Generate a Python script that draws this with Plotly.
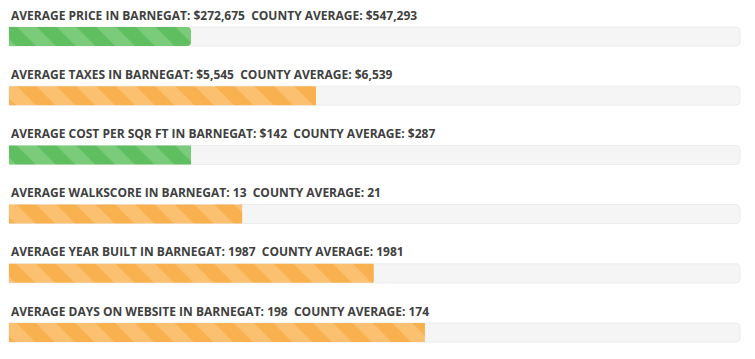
import plotly.graph_objects as go

labels = ["AVERAGE PRICE", "AVERAGE TAXES", "AVERAGE COST PER SQR FT",
          "AVERAGE WALKSCORE", "AVERAGE YEAR BUILT", "AVERAGE DAYS ON WEBSITE"]
town = "BARNEGAT"
town_values = ["$272,675", "$5,545", "$142", "13", "1987", "198"]
county_values = ["$547,293", "$6,539", "$287", "21", "1981", "174"]
fill_pct = [24.9, 42.0, 24.9, 31.9, 49.9, 56.9]
is_good = [True, False, True, False, False, False]

GREEN, GREEN_L = "#5fbe60", "#7acb7a"
ORANGE, ORANGE_L = "#f9b14f", "#fbc171"

rows = list(range(len(labels)))
OFF = 8  # page body margin
W, H = 755 - OFF, 359 - OFF
row0_px, row_step = 36.5 - OFF, 59.2
bar_h = 19 / row_step
y_top = -row0_px / row_step
y_bot = (H - row0_px) / row_step
x_left_px, x_right_px = 9 - OFF, 740 - OFF
span = x_right_px - x_left_px
x0 = -x_left_px / span * 100
x1 = 100 + (W - x_right_px) / span * 100

fig = go.Figure()
fig.add_trace(go.Bar(
    x=[100] * len(rows), y=rows, orientation="h", width=bar_h,
    marker=dict(color="#f5f5f5", line=dict(color="#ececec", width=1)),
    hoverinfo="skip", showlegend=False))

for good, base, light in [(True, GREEN, GREEN_L), (False, ORANGE, ORANGE_L)]:
    ys = [r for r in rows if is_good[r] == good]
    xs = [fill_pct[r] for r in ys]
    fig.add_trace(go.Bar(
        x=xs, y=ys, orientation="h", width=bar_h,
        marker=dict(
            color=base, line=dict(width=0),
            pattern=dict(shape="\\", size=28, solidity=0.5,
                         bgcolor=base, fgcolor=light, fgopacity=1)),
        hoverinfo="skip", showlegend=False))

for i, (lab, tv, cv) in enumerate(zip(labels, town_values, county_values)):
    fig.add_annotation(
        x=0, y=i - 21.5 / row_step, xref="x", yref="y",
        xanchor="left", yanchor="middle", showarrow=False,
        text=f"{lab} IN {town}: {tv}\u00a0\u00a0COUNTY AVERAGE: {cv}",
        font=dict(family="Open Sans", size=12, color="#404040", weight="bold"))

fig.update_layout(
    width=W, height=H, margin=dict(l=0, r=0, t=0, b=0),
    paper_bgcolor="white", plot_bgcolor="white",
    barmode="overlay", barcornerradius=4,
    xaxis=dict(range=[x0, x1], visible=False, fixedrange=True),
    yaxis=dict(range=[y_bot, y_top], visible=False, fixedrange=True),
)
fig.write_html("out.html")
